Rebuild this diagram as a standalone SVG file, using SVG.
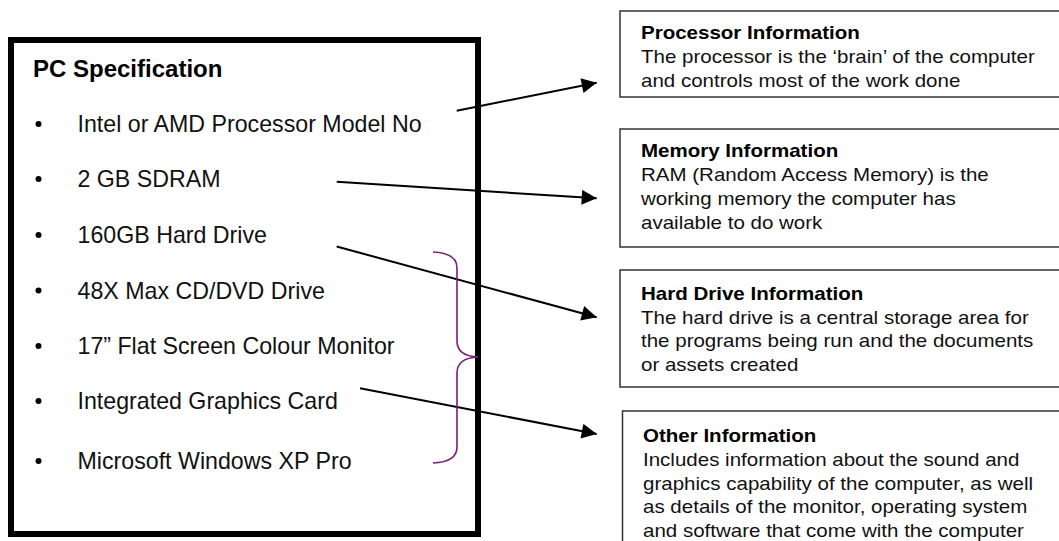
<svg xmlns="http://www.w3.org/2000/svg" width="1059" height="541" viewBox="0 0 1059 541">
<defs>
<style>
.spec{fill:none;stroke:#000;stroke-width:6}
.item{font-family:"Liberation Sans",Arial,sans-serif;font-size:23.2px;fill:#111}
.title{font-family:"Liberation Sans",Arial,sans-serif;font-size:24px;font-weight:bold;fill:#000}
.bul{fill:#000}
.ibox{fill:#fff;stroke:#333;stroke-width:1.5}
.it{font-family:"Liberation Sans",Arial,sans-serif;font-size:18px;fill:#111}
.ih{font-weight:bold;fill:#000}
.conn{stroke:#000;stroke-width:2;fill:none}
.brace{stroke:#7b1c7b;stroke-width:1.6;fill:none}
</style>
<marker id="ah" viewBox="0 0 10 10" refX="10" refY="5" markerWidth="8" markerHeight="7.5" markerUnits="strokeWidth" orient="auto">
<path d="M0,0 L10,5 L0,10 Z" fill="#000"/>
</marker>
</defs>
<rect width="1059" height="541" fill="#fff"/>
<g id="pc-spec">
<rect class="spec" x="11" y="40" width="467" height="494"/>
<text class="title" x="33" y="77">PC Specification</text>
<circle class="bul" cx="38.5" cy="124" r="3"/><text class="item" x="77.5" y="132">Intel or AMD Processor Model No</text>
<circle class="bul" cx="38.5" cy="179" r="3"/><text class="item" x="77.5" y="187">2 GB SDRAM</text>
<circle class="bul" cx="38.5" cy="235" r="3"/><text class="item" x="77.5" y="243">160GB Hard Drive</text>
<circle class="bul" cx="38.5" cy="290.5" r="3"/><text class="item" x="77.5" y="298.5">48X Max CD/DVD Drive</text>
<circle class="bul" cx="38.5" cy="346" r="3"/><text class="item" x="77.5" y="353.5">17” Flat Screen Colour Monitor</text>
<circle class="bul" cx="38.5" cy="401" r="3"/><text class="item" x="77.5" y="408.5">Integrated Graphics Card</text>
<circle class="bul" cx="38.5" cy="461" r="3"/><text class="item" x="77.5" y="468.5">Microsoft Windows XP Pro</text>
</g>
<g id="processor-info">
<rect class="ibox" x="620" y="11" width="450" height="86"/>
<g transform="translate(641 0) scale(1.14 1)">
<text class="it ih" x="0" y="39.3">Processor Information</text>
<text class="it" x="0" y="63.5">The processor is the ‘brain’ of the computer</text>
<text class="it" x="0" y="87">and controls most of the work done</text>
</g>
</g>
<g id="memory-info">
<rect class="ibox" x="620" y="129" width="450" height="118"/>
<g transform="translate(641 0) scale(1.14 1)">
<text class="it ih" x="0" y="157.5">Memory Information</text>
<text class="it" x="0" y="181.2">RAM (Random Access Memory) is the</text>
<text class="it" x="0" y="204.9">working memory the computer has</text>
<text class="it" x="0" y="228.6">available to do work</text>
</g>
</g>
<g id="harddrive-info">
<rect class="ibox" x="620" y="270" width="450" height="117"/>
<g transform="translate(641 0) scale(1.14 1)">
<text class="it ih" x="0" y="300">Hard Drive Information</text>
<text class="it" x="0" y="323.7">The hard drive is a central storage area for</text>
<text class="it" x="0" y="347.4">the programs being run and the documents</text>
<text class="it" x="0" y="371.1">or assets created</text>
</g>
</g>
<g id="other-info">
<rect class="ibox" x="622.5" y="411" width="450" height="140"/>
<g transform="translate(643 0) scale(1.14 1)">
<text class="it ih" x="0" y="442.3">Other Information</text>
<text class="it" x="0" y="466">Includes information about the sound and</text>
<text class="it" x="0" y="489.7">graphics capability of the computer, as well</text>
<text class="it" x="0" y="513.4">as details of the monitor, operating system</text>
<text class="it" x="0" y="537.1">and software that come with the computer</text>
</g>
</g>
<g id="connectors">
<line class="conn" x1="456.7" y1="110.7" x2="596.7" y2="82.7" marker-end="url(#ah)"/>
<line class="conn" x1="336.7" y1="181.7" x2="596.7" y2="198.3" marker-end="url(#ah)"/>
<line class="conn" x1="336.7" y1="246.5" x2="596.7" y2="317.3" marker-end="url(#ah)"/>
<line class="conn" x1="360" y1="388.3" x2="596.7" y2="434" marker-end="url(#ah)"/>
<path class="brace" d="M433,252 Q457,253 457,268 L457,341 Q457,356 478,357 Q457,358 457,373 L457,447 Q457,462 433,463"/>
</g>
</svg>
